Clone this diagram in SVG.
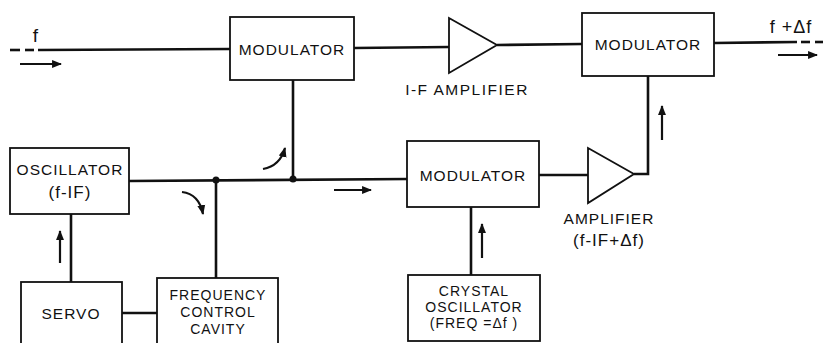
<svg xmlns="http://www.w3.org/2000/svg" width="823" height="343" viewBox="0 0 823 343">
<defs>
<style>
.box{fill:#fff;stroke:#111;stroke-width:1.8}
.ln{fill:none;stroke:#111;stroke-width:2.6}
.ar{fill:none;stroke:#111;stroke-width:2.2}
text{font-family:"Liberation Sans","DejaVu Sans",sans-serif;font-size:15.5px;fill:#111;text-anchor:middle;letter-spacing:1px}
.sm{font-size:14px}
</style>
<marker id="ah" viewBox="0 0 10 10" refX="9" refY="5" markerWidth="4.5" markerHeight="4.5" orient="auto" markerUnits="strokeWidth">
<path d="M0,1 L10,5 L0,9 z" fill="#111"/>
</marker>
</defs>
<rect width="823" height="343" fill="#fff"/>
<g id="connectors">
<line class="ln" x1="10" y1="50" x2="20" y2="50"/>
<line class="ln" x1="25" y1="50" x2="34" y2="50"/>
<path class="ln" d="M38,50 L230,49"/>
<path class="ln" d="M354,48 L449,47"/>
<path class="ln" d="M497,45 L582,44"/>
<path class="ln" d="M714,43 L797,42"/>
<line class="ln" x1="801" y1="42" x2="810" y2="42"/>
<line class="ln" x1="815" y1="42" x2="823" y2="42"/>
<path class="ln" d="M293,80 L293,179"/>
<path class="ln" d="M129,181 L408,179"/>
<path class="ln" d="M216,180 L216,278"/>
<path class="ln" d="M71,214 L71,282"/>
<path class="ln" d="M122,313 L157,313"/>
<path class="ln" d="M539,175 L588,175"/>
<path class="ln" d="M634,174 L648,174 L648,76"/>
<path class="ln" d="M471,207 L471,275"/>
<circle cx="216" cy="180" r="3.5" fill="#111"/>
<circle cx="293" cy="179" r="3.5" fill="#111"/>
<line class="ar" x1="20" y1="64" x2="61" y2="64" marker-end="url(#ah)"/>
<line class="ar" x1="778" y1="55" x2="817" y2="55" marker-end="url(#ah)"/>
<line class="ar" x1="334" y1="190" x2="371" y2="190" marker-end="url(#ah)"/>
<line class="ar" x1="662" y1="140" x2="662" y2="106" marker-end="url(#ah)"/>
<line class="ar" x1="60" y1="263" x2="60" y2="231" marker-end="url(#ah)"/>
<line class="ar" x1="482" y1="258" x2="482" y2="224" marker-end="url(#ah)"/>
<path class="ar" d="M263,169 Q280,166 285,148" marker-end="url(#ah)"/>
<path class="ar" d="M182,192 Q199,194 203,214" marker-end="url(#ah)"/>
</g>
<text x="36" y="42" style="font-size:19px">f</text>
<text x="791" y="33" style="font-size:18px">f +Δf</text>
<g id="modulator1"><rect class="box" x="230" y="17" width="124" height="63"/><text x="292" y="55">MODULATOR</text></g>
<g id="if-amplifier"><polygon class="box" points="449,18 497,45 449,73"/><text x="467" y="95" style="letter-spacing:1.5px">I-F AMPLIFIER</text></g>
<g id="modulator2"><rect class="box" x="582" y="13" width="132" height="63"/><text x="648" y="50">MODULATOR</text></g>
<g id="oscillator"><rect class="box" x="10" y="148" width="119" height="66"/><text x="70" y="175">OSCILLATOR</text><text x="70" y="198" style="font-size:17px">(f-IF)</text></g>
<g id="modulator3"><rect class="box" x="407" y="141" width="132" height="66"/><text x="473" y="181">MODULATOR</text></g>
<g id="amplifier"><polygon class="box" points="588,148 634,174 588,203"/><text x="609" y="224">AMPLIFIER</text><text x="609" y="246" style="font-size:17px">(f-IF+Δf)</text></g>
<g id="servo"><rect class="box" x="21" y="282" width="101" height="70"/><text x="71" y="319">SERVO</text></g>
<g id="frequency-control-cavity"><rect class="box" x="157" y="278" width="121" height="74"/><text x="218" y="300" class="sm">FREQUENCY</text><text x="218" y="317" class="sm">CONTROL</text><text x="218" y="334" class="sm">CAVITY</text></g>
<g id="crystal-oscillator"><rect class="box" x="408" y="275" width="132" height="66"/><text x="474" y="296" class="sm">CRYSTAL</text><text x="474" y="312" class="sm">OSCILLATOR</text><text x="474" y="328" class="sm">(FREQ =Δf )</text></g>
</svg>
